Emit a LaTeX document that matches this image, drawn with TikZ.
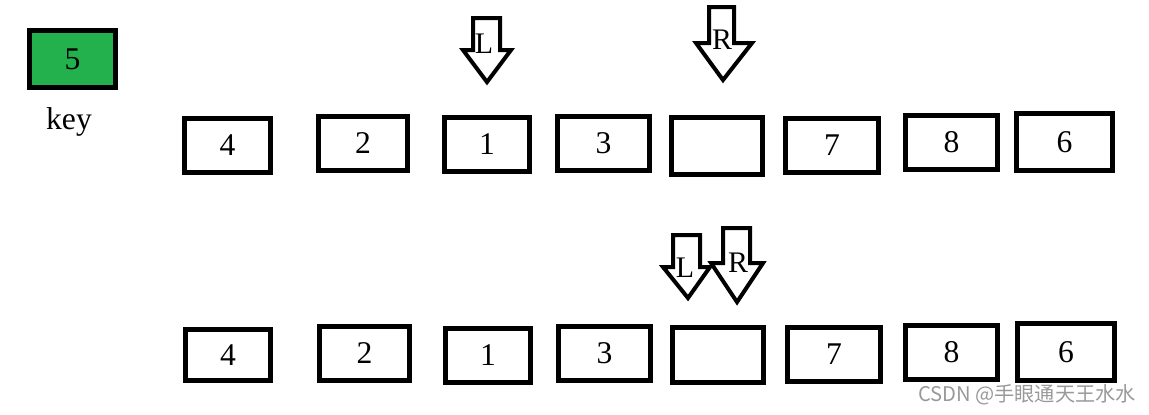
\documentclass[tikz,border=0pt]{standalone}
\usepackage{fontspec}
\setmainfont{Liberation Serif}
\newfontfamily\cjkwm{Noto Sans CJK SC}
\usepackage{tikz}
\usetikzlibrary{positioning}

\definecolor{keygreen}{RGB}{34,177,76}

\begin{document}
\begin{tikzpicture}[
  x=0.02cm, y=-0.02cm,
  cell/.style={draw,line width=0.1cm,minimum width=1.8cm,minimum height=1.08cm,inner sep=0pt,font=\fontsize{18}{20}\selectfont},
  ptr/.style={draw,line width=0.08cm,fill=white,line join=miter},
  ptrlbl/.style={inner sep=0pt,font=\fontsize{17}{19}\selectfont}
]
\useasboundingbox (0,0) rectangle (1149,414);
% key
\node[cell,fill=keygreen,minimum width=1.74cm,minimum height=1.14cm] (key) at (72.5,59) {5};
\node[font=\fontsize{18}{20}\selectfont] (keylbl) at (69,122) {key};
% first row
\node[cell,minimum width=1.72cm] (a4) at (227.5,145) {4};
\node[cell] (a2) at (363,143) {2};
\node[cell,minimum width=1.72cm] (a1) at (487,144.5) {1};
\node[cell,minimum width=1.84cm] (a3) at (603.5,143) {3};
\node[cell,minimum width=1.82cm,minimum height=1.14cm] (a0) at (717,146) {};
\node[cell,minimum width=1.86cm] (a7) at (832,145) {7};
\node[cell,minimum width=1.84cm] (a8) at (951.5,142) {8};
\node[cell,minimum width=1.92cm,minimum height=1.14cm] (a6) at (1064.5,142) {6};
% pointers over first row
\draw[ptr] (473,18) -- (500,18) -- (500,50) -- (511,50) -- (487,82) -- (463,50) -- (473,50) -- cycle;
\node[ptrlbl] (l1) at (484,44) {L};
\draw[ptr] (709,7) -- (734,7) -- (734,43) -- (752,43) -- (723,80) -- (696,43) -- (709,43) -- cycle;
\node[ptrlbl] (r1) at (722,40) {R};
% second row
\node[cell,minimum width=1.7cm,minimum height=1.02cm] (b4) at (228,355) {4};
\node[cell] (b2) at (364.5,353) {2};
\node[cell,minimum width=1.7cm] (b1) at (488,355.5) {1};
\node[cell,minimum width=1.84cm] (b3) at (604.5,353.5) {3};
\node[cell,minimum width=1.82cm,minimum height=1.1cm] (b0) at (718,355) {};
\node[cell,minimum width=1.86cm] (b7) at (834,354) {7};
\node[cell,minimum width=1.84cm] (b8) at (951.5,352) {8};
\node[cell,minimum width=1.94cm,minimum height=1.14cm] (b6) at (1066,352) {6};
% pointers over second row
\draw[ptr] (673,235) -- (700,235) -- (700,267) -- (710,267) -- (688,298) -- (663,267) -- (673,267) -- cycle;
\node[ptrlbl] (l2) at (685,268) {L};
\draw[ptr] (723,228) -- (750,228) -- (750,263) -- (763,263) -- (737,302) -- (711,263) -- (723,263) -- cycle;
\node[ptrlbl] (r2) at (738,263) {R};
% watermark
\node[text=black!40,font=\cjkwm\fontsize{11.5}{13}\selectfont,inner sep=0pt] (wm) at (1027,395) {CSDN @手眼通天王水水};
\end{tikzpicture}
\end{document}
